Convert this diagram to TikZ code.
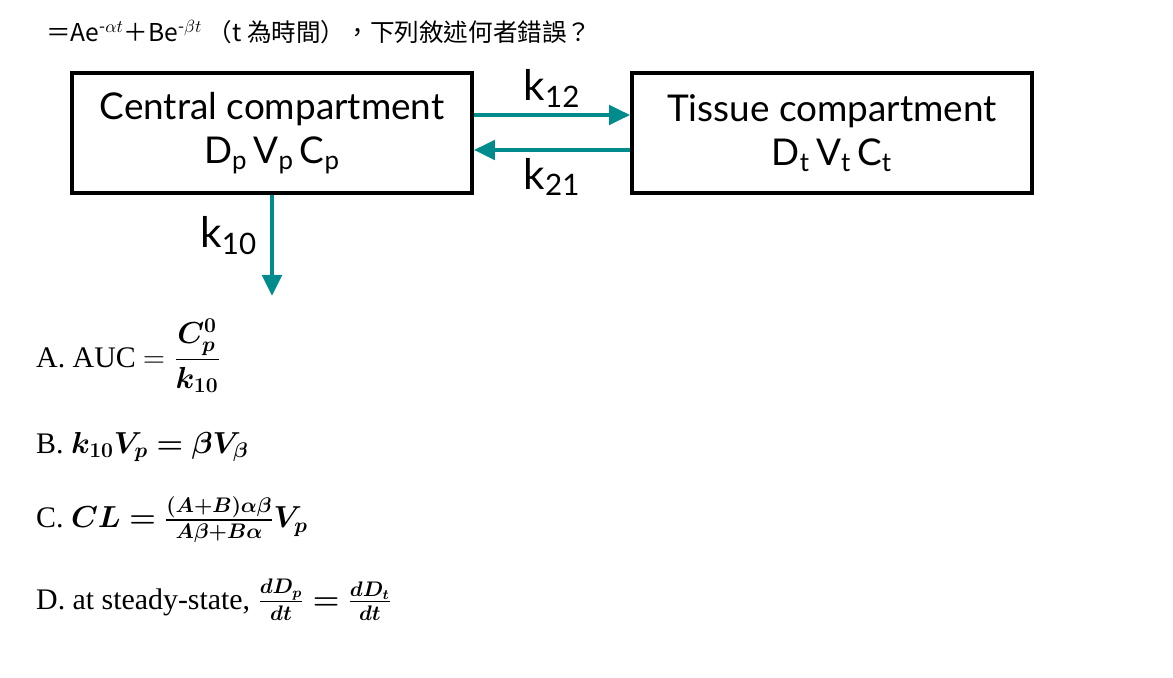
\documentclass[tikz,border=0pt]{standalone}
\usepackage{fontspec}
\usepackage{amsmath,bm}
\setsansfont{Lato}
\newfontfamily\cjk{Noto Sans CJK TC}
\newfontfamily\choicefont{Liberation Serif}
\usetikzlibrary{arrows.meta}
\definecolor{teal1}{RGB}{0,140,140}
\tikzset{% common styles of the picture elements
  compbox/.style = {shape=rectangle, draw, line width=2.2pt, align=center,
                    minimum width=8cm, minimum height=2.4cm,
                    font=\sffamily\fontsize{21}{25}\selectfont},
  flow/.style    = {draw=teal1, line width=2.4pt, -{Triangle[length=12pt,width=11pt]}},
  rate/.style    = {font=\sffamily\fontsize{24}{28}\selectfont},
  choice/.style  = {anchor=west, font=\choicefont\fontsize{17}{20}\selectfont},
}
\newcommand\krate[1]{k\textsubscript{#1}}
\begin{document}
\begin{tikzpicture}[x=0.02cm,y=-0.02cm]
  \useasboundingbox (0,0) rectangle (1173,678);
  % question line
  \node [anchor=west, font=\cjk\fontsize{14}{16}\selectfont] (q) at (40,32)
        {＝Ae$^{\text{-}\alpha t}$＋Be$^{\text{-}\beta t}$ （t 為時間），下列敘述何者錯誤？};
  % compartments
  \node [compbox] (cen) at (272,133) {Central compartment\\$\mathsf{D_p\,V_p\,C_p}$};
  \node [compbox] (tis) at (832,133) {Tissue compartment\\$\mathsf{D_t\,V_t\,C_t}$};
  \coordinate (out) at (272,296);
  \draw [flow] ([yshift=0.36cm]cen.east) -- ([yshift=0.36cm]tis.west)
        node [rate, midway, above=0pt] {\krate{12}};
  \draw [flow] ([yshift=-0.34cm]tis.west) -- ([yshift=-0.34cm]cen.east)
        node [rate, midway, below=0pt] {\krate{21}};
  \draw [flow] (cen.south) -- (out) node [rate, pos=0.4, left=4pt] {\krate{10}};
  % answer choices
  \node [choice] (a) at (30,356) {A. AUC $=\dfrac{\bm{C_p^0}}{\bm{k_{10}}}$};
  \node [choice] (b) at (30,447) {B. $\bm{k_{10}V_p=\beta V_\beta}$};
  \node [choice] (c) at (30,520) {C. $\bm{CL=\frac{(A+B)\alpha\beta}{A\beta+B\alpha}V_p}$};
  \node [choice] (d) at (30,600) {D. at steady-state, $\bm{\frac{dD_p}{dt}=\frac{dD_t}{dt}}$};
\end{tikzpicture}
\end{document}
